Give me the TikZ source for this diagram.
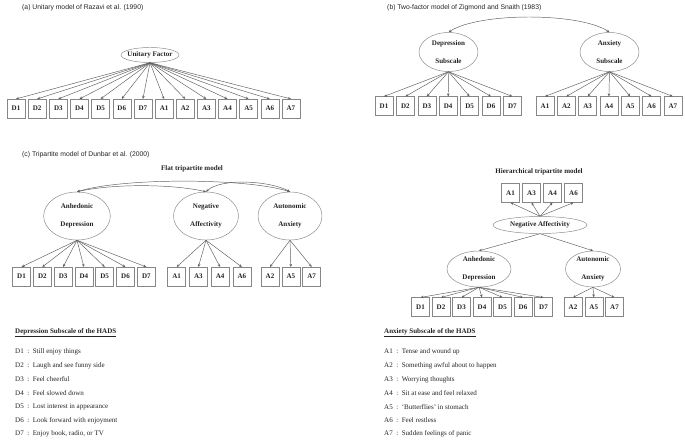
\documentclass[tikz,border=0pt]{standalone}
\usepackage{fontspec}
\setmainfont{Liberation Serif}
\setsansfont{Liberation Sans}
\usetikzlibrary{arrows.meta,shapes.geometric}
\definecolor{SEMLine}{RGB}{95,95,95}
\definecolor{SEMBox}{RGB}{135,135,135}
\definecolor{SEMText}{RGB}{35,35,35}

\begin{document}
\begin{tikzpicture}[x=0.03cm, y=-0.03cm,
        item/.style={rectangle, draw=SEMBox, fill=white, minimum width=0.54cm, minimum height=0.56cm, inner sep=0pt, text=SEMText, font=\bfseries\fontsize{6}{7}\selectfont},
        factor/.style={ellipse, draw=SEMBox, inner sep=0pt, align=center, text=SEMText, font=\bfseries\fontsize{6}{7}\selectfont},
        load/.style={-{Stealth[length=2.6pt,width=2.2pt]}, draw=SEMLine, line width=0.4pt},
        cov/.style={{Stealth[length=2.6pt,width=2.2pt]}-{Stealth[length=2.6pt,width=2.2pt]}, draw=SEMLine, line width=0.4pt},
        paneltitle/.style={anchor=west, inner sep=0pt, text=SEMText, font=\sffamily\fontsize{5.8}{7}\selectfont},
        modeltitle/.style={inner sep=0pt, text=SEMText, font=\bfseries\fontsize{6}{7}\selectfont},
        hadsitem/.style={anchor=west, inner sep=0pt, text=SEMText, font=\fontsize{6}{7}\selectfont}
      ]
        \useasboundingbox (0,0) rectangle (685,443);
        % (a) unitary model
        \node[paneltitle] (ta) at (22,8) {(a) Unitary model of Razavi et al. (1990)};
        \node[factor, minimum width=1.74cm, minimum height=0.45cm, inner xsep=-3pt] (uf) at (150,55) {Unitary Factor};
        \foreach \lab [count=\i] in {D1,D2,D3,D4,D5,D6,D7,A1,A2,A3,A4,A5,A6,A7} {
          \node[item] (u\i) at ({16+21.15*(\i-1)},108.5) {\lab};
          \draw[load] (uf.south) -- (u\i.north);
        }
        % (b) two-factor model
        \node[paneltitle] (tb) at (387,8) {(b) Two-factor model of Zigmond and Snaith (1983)};
        \node[factor, minimum width=1.77cm, minimum height=1.17cm] (dep) at (448.5,52) {Depression\\[8pt]Subscale};
        \node[factor, minimum width=1.77cm, minimum height=1.17cm] (anx) at (609.5,52) {Anxiety\\[8pt]Subscale};
        \foreach \i in {1,...,7} {
          \node[item] (bd\i) at ({384+21.4*(\i-1)},106) {D\i};
          \draw[load] (dep.south) -- (bd\i.north);
          \node[item] (ba\i) at ({545+21.3*(\i-1)},106) {A\i};
          \draw[load] (anx.south) -- (ba\i.north);
        }
        \draw[cov] (dep.north) .. controls +(30,-20) and +(-30,-20) .. (anx.north);
        % (c) tripartite model, flat
        \node[paneltitle] (tc) at (22,155) {(c) Tripartite model of Dunbar et al. (2000)};
        \node[modeltitle] (tflat) at (192,169) {Flat tripartite model};
        \node[factor, minimum width=2.0cm, minimum height=1.44cm] (fad) at (77,216) {Anhedonic\\[8pt]Depression};
        \node[factor, minimum width=1.95cm, minimum height=1.44cm] (fna) at (206,216) {Negative\\[8pt]Affectivity};
        \node[factor, minimum width=1.92cm, minimum height=1.44cm] (faa) at (290,216) {Autonomic\\[8pt]Anxiety};
        \foreach \i in {1,...,7} {
          \node[item] (fd\i) at ({21.5+20.8*(\i-1)},276.5) {D\i};
          \draw[load] (fad.south) -- (fd\i.north);
        }
        \foreach \lab [count=\i] in {A1,A3,A4,A6} {
          \node[item] (fn\i) at ({176.7+21.7*(\i-1)},276.5) {\lab};
          \draw[load] (fna.south) -- (fn\i.north);
        }
        \foreach \lab [count=\i] in {A2,A5,A7} {
          \node[item] (fa\i) at ({270+20.85*(\i-1)},276.5) {\lab};
          \draw[load] (faa.south) -- (fa\i.north);
        }
        \draw[cov] (fad.north) .. controls +(45,-14) and +(-45,-14) .. (faa.north);
        \draw[cov] (fad.north) .. controls +(35,-8) and +(-35,-8) .. (fna.north);
        \draw[cov] (fna.north) .. controls +(15,-14) and +(-20,-11) .. (faa.north);
        % (c) tripartite model, hierarchical
        \node[modeltitle] (thier) at (539,172) {Hierarchical tripartite model};
        \node[factor, minimum width=2.82cm, minimum height=0.51cm] (hna) at (540,225) {Negative Affectivity};
        \node[factor, minimum width=1.92cm, minimum height=1.08cm] (had) at (479,269) {Anhedonic\\[8pt]Depression};
        \node[factor, minimum width=1.65cm, minimum height=1.08cm] (haa) at (593,269) {Autonomic\\[8pt]Anxiety};
        \foreach \lab [count=\i] in {A1,A3,A4,A6} {
          \node[item] (hn\i) at ({510.5+21*(\i-1)},193) {\lab};
          \draw[load] (hna.north) -- (hn\i.south);
        }
        \draw[load] (hna.south) -- (had.north);
        \draw[load] (hna.south) -- (haa.north);
        \foreach \i in {1,...,7} {
          \node[item] (hd\i) at ({420.5+20.5*(\i-1)},307) {D\i};
          \draw[load] (had.south) -- (hd\i.north);
        }
        \foreach \lab [count=\i] in {A2,A5,A7} {
          \node[item] (ha\i) at ({573+20.75*(\i-1)},307) {\lab};
          \draw[load] (haa.south) -- (ha\i.north);
        }
        % item wording
        \node[hadsitem, font=\bfseries\fontsize{6}{7}\selectfont] (dhead) at (15,333) {\underline{Depression Subscale of the HADS}};
        \foreach \txt [count=\i] in {Still enjoy things, Laugh and see funny side, Feel cheerful, Feel slowed down, Lost interest in appearance, Look forward with enjoyment, {Enjoy book, radio, or TV}} {
          \node[hadsitem] (dl\i) at (15,{352+13.7*(\i-1)}) {D\i\enspace:\enspace\txt};
        }
        \node[hadsitem, font=\bfseries\fontsize{6}{7}\selectfont] (ahead) at (384,333) {\underline{Anxiety Subscale of the HADS}};
        \foreach \txt [count=\i] in {Tense and wound up, Something awful about to happen, Worrying thoughts, Sit at ease and feel relaxed, `Butterflies' in stomach, Feel restless, Sudden feelings of panic} {
          \node[hadsitem] (al\i) at (384,{352+13.7*(\i-1)}) {A\i\enspace:\enspace\txt};
        }
      \end{tikzpicture}
\end{document}
